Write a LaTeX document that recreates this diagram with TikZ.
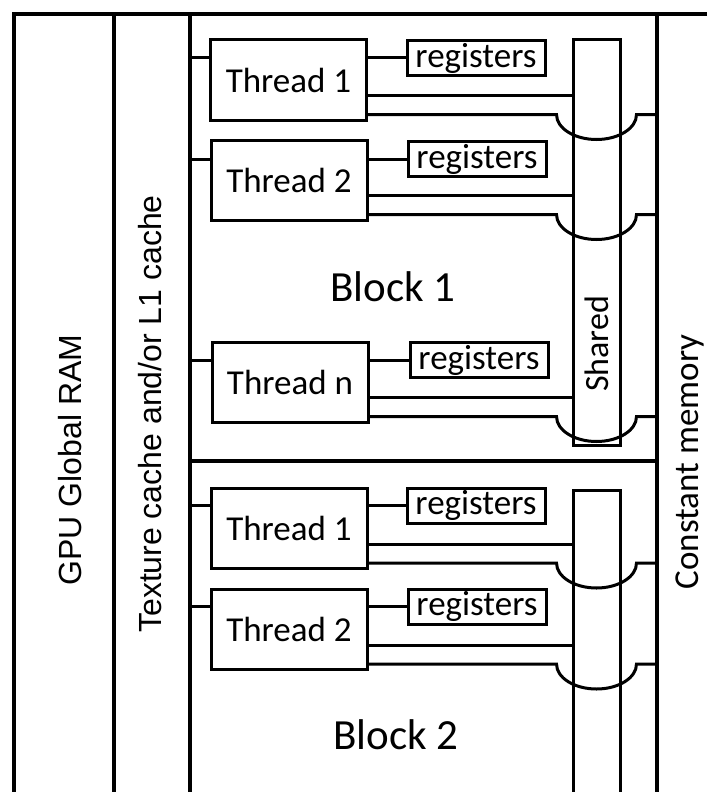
\documentclass[tikz,border=0pt]{standalone}
\usepackage{fontspec}
\setmainfont{Carlito}
\newfontfamily\arialfont{Liberation Sans}
\usetikzlibrary{positioning, calc}

\begin{document}
\begin{tikzpicture}[
    x=1pt, y=-1pt,
    wall/.style={line width=3.6pt},
    wire/.style={line width=3pt},
    thread/.style={
      draw, line width=3pt, rectangle, inner sep=0pt,
      minimum width=156pt, minimum height=80pt,
      font=\fontsize{35}{38}\selectfont,
    },
    regs/.style={
      draw, line width=3pt, rectangle, inner sep=0pt,
      minimum width=138pt, minimum height=35pt,
      font=\fontsize{35}{38}\selectfont,
    },
    shared/.style={
      draw, line width=3pt, rectangle, inner sep=0pt,
      minimum width=47pt,
    },
    blocklabel/.style={font=\fontsize{43}{47}\selectfont},
    sidelabel/.style={rotate=90, inner sep=0pt},
]
\clip (0,0) rectangle (707,792);

% Memory columns
\coordinate (left)    at (14,14);
\coordinate (ramedge) at (114,14);
\coordinate (texedge) at (190,14);
\coordinate (cmedge)  at (657,14);
\coordinate (right)   at (707,14);

\draw[wall] (right) -- (left) -- ++(0,800);
\draw[wall] (ramedge) -- ++(0,800);
\draw[wall] (texedge) -- ++(0,800);
\draw[wall] (cmedge) -- ++(0,800);
\draw[wall] (texedge |- 0,461) -- (cmedge |- 0,461);

\node[sidelabel, font=\arialfont\fontsize{32}{35}\selectfont] (ramlbl) at (70,460) {GPU Global RAM};
\node[sidelabel, font=\arialfont\fontsize{32}{35}\selectfont] (texlbl) at (150,414) {Texture cache and/or L1 cache};
\node[sidelabel, font=\fontsize{35}{38}\selectfont] (cmlbl) at (690,462) {Constant memory};

% Block labels
\node[blocklabel] (b1) at (393,287) {Block 1};
\node[blocklabel] (b2) at (396,735) {Block 2};

% Shared memory
\node[shared, minimum height=405pt] (s1) at (596.5,242.5) {};
\node[sidelabel, font=\fontsize{34}{37}\selectfont] (s1lbl) at (597,344) {Shared};
\node[shared, minimum height=340pt] (s2) at (596.5,660) {};

% Block 1 threads
\node[thread] (t11) at (288.5,80) {Thread 1};
\node[regs]   (r11) at (476,58)   {registers};
\node[thread] (t12) at (289,180)  {Thread 2};
\node[regs]   (r12) at (477,159)  {registers};
\node[thread] (t1n) at (290,382)  {Thread n};
\node[regs]   (r1n) at (479,360)  {registers};

% Block 2 threads
\node[thread] (t21) at (289,528.5) {Thread 1};
\node[regs]   (r21) at (476,505.5) {registers};
\node[thread] (t22) at (289,629.5) {Thread 2};
\node[regs]   (r22) at (477,606.5) {registers};

% Thread 1 (block 1)
\draw[wire] (texedge |- r11) -- (t11.west |- r11);
\draw[wire] (t11.east |- r11) -- (r11.west);
\draw[wire] ([yshift=26pt]t11.south east) -- ([yshift=26pt]s1.west |- t11.south east);
\draw[wire] ([yshift=7pt]t11.south east) -- ([xshift=-40pt,yshift=7pt]s1.center |- t11.south east)
    arc[start angle=180, end angle=360, x radius=40pt, y radius=25pt]
    -- ([yshift=7pt]cmedge |- t11.south east);

% Thread 2 (block 1)
\draw[wire] (texedge |- r12) -- (t12.west |- r12);
\draw[wire] (t12.east |- r12) -- (r12.west);
\draw[wire] ([yshift=26pt]t12.south east) -- ([yshift=26pt]s1.west |- t12.south east);
\draw[wire] ([yshift=7pt]t12.south east) -- ([xshift=-40pt,yshift=7pt]s1.center |- t12.south east)
    arc[start angle=180, end angle=360, x radius=40pt, y radius=25pt]
    -- ([yshift=7pt]cmedge |- t12.south east);

% Thread n (block 1)
\draw[wire] (texedge |- r1n) -- (t1n.west |- r1n);
\draw[wire] (t1n.east |- r1n) -- (r1n.west);
\draw[wire] ([yshift=26pt]t1n.south east) -- ([yshift=26pt]s1.west |- t1n.south east);
\draw[wire] ([yshift=7pt]t1n.south east) -- ([xshift=-40pt,yshift=7pt]s1.center |- t1n.south east)
    arc[start angle=180, end angle=360, x radius=40pt, y radius=25pt]
    -- ([yshift=7pt]cmedge |- t1n.south east);

% Thread 1 (block 2)
\draw[wire] (texedge |- r21) -- (t21.west |- r21);
\draw[wire] (t21.east |- r21) -- (r21.west);
\draw[wire] ([yshift=26pt]t21.south east) -- ([yshift=26pt]s2.west |- t21.south east);
\draw[wire] ([yshift=7pt]t21.south east) -- ([xshift=-40pt,yshift=7pt]s2.center |- t21.south east)
    arc[start angle=180, end angle=360, x radius=40pt, y radius=25pt]
    -- ([yshift=7pt]cmedge |- t21.south east);

% Thread 2 (block 2)
\draw[wire] (texedge |- r22) -- (t22.west |- r22);
\draw[wire] (t22.east |- r22) -- (r22.west);
\draw[wire] ([yshift=26pt]t22.south east) -- ([yshift=26pt]s2.west |- t22.south east);
\draw[wire] ([yshift=7pt]t22.south east) -- ([xshift=-40pt,yshift=7pt]s2.center |- t22.south east)
    arc[start angle=180, end angle=360, x radius=40pt, y radius=25pt]
    -- ([yshift=7pt]cmedge |- t22.south east);
\end{tikzpicture}
\end{document}
